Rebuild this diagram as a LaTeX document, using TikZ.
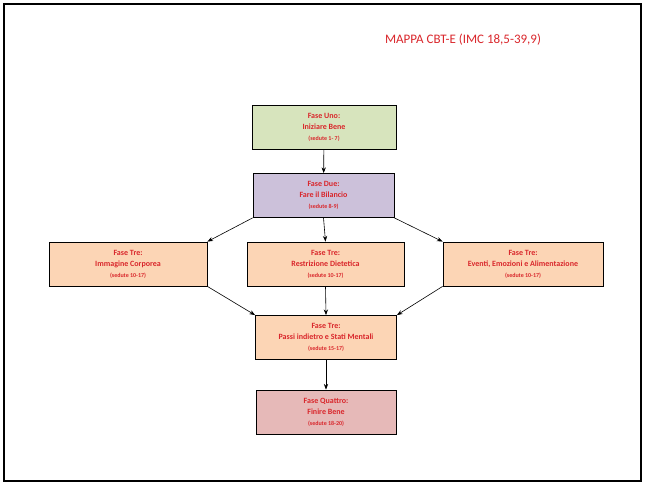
\documentclass[tikz,border=0pt]{standalone}
\usepackage{fontspec}
\setmainfont{Carlito}
\usetikzlibrary{arrows.meta,positioning}
\definecolor{fasered}{HTML}{D9262B}
\definecolor{unofill}{HTML}{D7E4BD}
\definecolor{duefill}{HTML}{CCC1DA}
\definecolor{trefill}{HTML}{FCD5B5}
\definecolor{quattrofill}{HTML}{E6B9B8}
\begin{document}
\begin{tikzpicture}[x=1pt,y=-1pt,
      mybox/.style={
         rectangle,
         draw=black,
         line width=0.8pt,
         align=center,
         text=fasered,
         inner sep=0pt,
         minimum height=44pt,
         font=\bfseries\fontsize{8}{11}\selectfont},
      myarrow/.style={-Stealth, line width=0.6pt}
      ]
      \useasboundingbox (0,0) rectangle (645,486);
      \draw[line width=1.6pt] (4,4) rectangle (641,481);
      \node[text=fasered, font=\fontsize{13}{15}\selectfont] (title) at (463,40) {MAPPA CBT-E (IMC 18,5-39,9)};

      \node[mybox, fill=unofill, minimum width=144pt] (uno) at (324,127)
         {Fase Uno:\\Iniziare Bene\\{\fontsize{6}{9}\selectfont(sedute 1- 7)}};
      \node[mybox, fill=duefill, minimum width=141pt] (due) at (323.5,195.5)
         {Fase Due:\\Fare il Bilancio\\{\fontsize{6}{9}\selectfont(sedute 8-9)}};
      \node[mybox, fill=trefill, minimum width=158pt] (corpo) at (128,264)
         {Fase Tre:\\Immagine Corporea\\{\fontsize{6}{9}\selectfont(sedute 10-17)}};
      \node[mybox, fill=trefill, minimum width=157pt] (dieta) at (325.5,264)
         {Fase Tre:\\Restrizione Dietetica\\{\fontsize{6}{9}\selectfont(sedute 10-17)}};
      \node[mybox, fill=trefill, minimum width=160pt] (eventi) at (523,264)
         {Fase Tre:\\Eventi, Emozioni e Alimentazione\\{\fontsize{6}{9}\selectfont(sedute 10-17)}};
      \node[mybox, fill=trefill, minimum width=141pt] (passi) at (326,337.5)
         {Fase Tre:\\Passi indietro e Stati Mentali\\{\fontsize{6}{9}\selectfont(sedute 15-17)}};
      \node[mybox, fill=quattrofill, minimum width=140pt] (quattro) at (326,412)
         {Fase Quattro:\\Finire Bene\\{\fontsize{6}{9}\selectfont(sedute 18-20)}};

      \draw[myarrow] (uno) -- (due);
      \draw[myarrow] (due.south west) -- (corpo.north east);
      \draw[myarrow] (due.south) -- (dieta.north);
      \draw[myarrow] (due.south east) -- (eventi.north west);
      \draw[myarrow] (corpo.south east) -- (passi.north west);
      \draw[myarrow] (dieta.south) -- (passi.north);
      \draw[myarrow] (eventi.south west) -- (passi.north east);
      \draw[myarrow] (passi) -- (quattro);
\end{tikzpicture}
\end{document}
